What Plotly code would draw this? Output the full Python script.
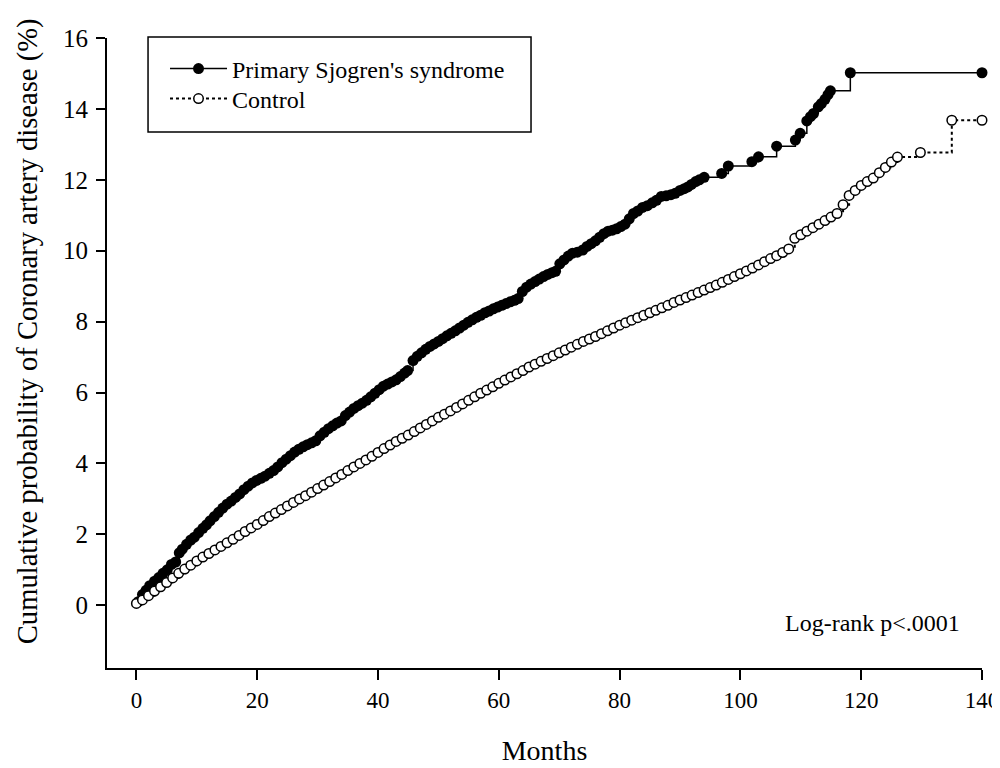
import plotly.graph_objects as go

# Kaplan-Meier style cumulative incidence
pss_months = [0.3, 1.0, 1.6, 2.2, 3.0, 3.7, 4.4, 5.1, 5.8, 6.5, 7.1, 7.6, 8.3, 9.0, 9.6,
              10.3, 11.0, 11.6, 12.2, 12.9, 13.6, 14.3, 15.0, 15.7, 16.4, 17.1, 17.8, 18.5,
              19.2, 19.9, 20.6, 21.3, 22.0, 22.7, 23.4, 24.1, 24.8, 25.5, 26.2, 26.9, 27.6,
              28.3, 29.0, 29.7, 30.4, 31.1, 31.8, 32.5, 33.2, 33.9, 34.6, 35.3, 36.0, 36.7,
              37.4, 38.1, 38.8, 39.5, 40.2, 40.9, 41.6, 42.3, 43.0, 43.7, 44.4, 44.9, 45.8,
              46.5, 47.2, 47.9, 48.6, 49.3, 50.0, 50.7, 51.4, 52.1, 52.8, 53.5, 54.2, 54.9,
              55.6, 56.3, 57.0, 57.7, 58.4, 59.1, 59.8, 60.5, 61.2, 61.9, 62.6, 63.2, 63.9,
              64.6, 65.3, 66.0, 66.7, 67.4, 68.1, 68.8, 69.4, 70.1, 70.8, 71.5, 72.2, 73.0,
              73.9, 74.6, 75.3, 76.0, 76.7, 77.4, 78.1, 78.8, 79.5, 80.2, 80.9, 81.6, 82.3,
              83.0, 83.8, 84.6, 85.4, 86.1, 86.9, 87.7, 88.5, 89.2, 90.0, 90.7, 91.3, 91.9,
              92.6, 93.2, 94.0, 96.9, 98.0, 101.9, 103.0, 106.0, 109.1, 109.9, 111.0, 111.6,
              112.1, 112.9, 113.4, 114.0, 114.5, 114.9, 118.2, 140.0]
pss_cum = [0.1, 0.3, 0.42, 0.55, 0.68, 0.78, 0.9, 1.0, 1.15, 1.22, 1.48, 1.58, 1.72, 1.84, 1.92,
           2.05, 2.17, 2.27, 2.38, 2.5, 2.62, 2.74, 2.85, 2.94, 3.04, 3.14, 3.26, 3.36,
           3.45, 3.52, 3.58, 3.64, 3.72, 3.8, 3.9, 4.02, 4.12, 4.22, 4.32, 4.4, 4.47,
           4.53, 4.58, 4.64, 4.78, 4.88, 4.98, 5.06, 5.14, 5.2, 5.35, 5.45, 5.55, 5.63,
           5.7, 5.78, 5.88, 5.98, 6.08, 6.18, 6.24, 6.3, 6.36, 6.45, 6.55, 6.62, 6.9,
           7.02, 7.12, 7.22, 7.3, 7.37, 7.44, 7.52, 7.6, 7.67, 7.74, 7.82, 7.9, 7.98,
           8.05, 8.12, 8.18, 8.25, 8.3, 8.36, 8.41, 8.46, 8.51, 8.56, 8.6, 8.65, 8.85,
           8.97, 9.06, 9.13, 9.2, 9.27, 9.33, 9.38, 9.42, 9.63, 9.74, 9.85, 9.93, 9.96,
           10.02, 10.12, 10.2, 10.28, 10.38, 10.48, 10.55, 10.58, 10.62, 10.68, 10.75, 10.9, 11.05,
           11.12, 11.22, 11.27, 11.35, 11.42, 11.53, 11.55, 11.58, 11.62, 11.7, 11.75, 11.8, 11.87,
           11.95, 12.0, 12.07, 12.18, 12.39, 12.51, 12.65, 12.95, 13.12, 13.31, 13.66, 13.78,
           13.87, 14.06, 14.15, 14.27, 14.4, 14.51, 15.02, 15.02]

ctrl_months = [0, 1, 2, 3, 4, 5, 6, 7, 8, 9, 10, 11, 12, 13, 14, 15, 16, 17, 18, 19,
               20, 21, 22, 23, 24, 25, 26, 27, 28, 29, 30, 31, 32, 33, 34, 35, 36, 37, 38, 39,
               40, 41, 42, 43, 44, 45, 46, 47, 48, 49, 50, 51, 52, 53, 54, 55, 56, 57, 58, 59,
               60, 61, 62, 63, 64, 65, 66, 67, 68, 69, 70, 71, 72, 73, 74, 75, 76, 77, 78, 79,
               80, 81, 82, 83, 84, 85, 86, 87, 88, 89, 90, 91, 92, 93, 94, 95, 96, 97, 98, 99,
               100, 101, 102, 103, 104, 105, 106, 107, 108, 109, 110, 111, 112, 113, 114, 115,
               116, 117, 118, 119, 120, 121, 122, 123, 124, 125, 126, 129.8, 135, 140]
ctrl_cum = [0.05, 0.15, 0.27, 0.4, 0.52, 0.64, 0.77, 0.9, 1.02, 1.13, 1.25, 1.36, 1.46, 1.56,
            1.66, 1.76, 1.86, 1.97, 2.08, 2.18,
            2.28, 2.39, 2.5, 2.6, 2.7, 2.8, 2.9, 3.0, 3.09, 3.19, 3.29, 3.39, 3.49, 3.59,
            3.69, 3.8, 3.9, 4.0, 4.1, 4.2,
            4.31, 4.42, 4.52, 4.62, 4.71, 4.8, 4.9, 5.0, 5.1, 5.2, 5.3, 5.39, 5.48, 5.58,
            5.68, 5.78, 5.88, 5.98, 6.07, 6.16,
            6.26, 6.35, 6.44, 6.53, 6.62, 6.72, 6.8, 6.88, 6.96, 7.04, 7.12, 7.2, 7.28, 7.36,
            7.44, 7.51, 7.58, 7.66, 7.74, 7.82,
            7.9, 7.97, 8.04, 8.11, 8.18, 8.25, 8.32, 8.39, 8.46, 8.54, 8.61, 8.68, 8.75, 8.82,
            8.89, 8.96, 9.03, 9.11, 9.19, 9.27,
            9.35, 9.43, 9.51, 9.6, 9.69, 9.78, 9.86, 9.95, 10.05, 10.35, 10.45, 10.55, 10.65,
            10.75, 10.85, 10.95,
            11.05, 11.3, 11.56, 11.7, 11.84, 11.95, 12.05, 12.2, 12.35, 12.5, 12.64, 12.77,
            13.68, 13.68]

x_ticks = [0, 20, 40, 60, 80, 100, 120, 140]
y_ticks = [0, 2, 4, 6, 8, 10, 12, 14, 16]

serif = "Liberation Serif"

fig = go.Figure()
fig.add_trace(go.Scatter(x=pss_months, y=pss_cum, name="Primary Sjogren's syndrome",
                         mode="lines+markers", line=dict(color="black", width=1.5, shape="hv"),
                         marker=dict(symbol="circle", size=11, color="black"),
                         cliponaxis=False, legend="legend"))
fig.add_trace(go.Scatter(x=ctrl_months, y=ctrl_cum, name="Control",
                         mode="lines+markers", line=dict(color="black", width=2, dash="dot", shape="hv"),
                         marker=dict(symbol="circle", size=9.5, color="white",
                                     line=dict(color="black", width=1.5)),
                         cliponaxis=False, legend="legend2"))

# legend frame
fig.add_shape(type="rect", xref="paper", yref="paper",
              x0=0.0469, x1=0.4846, y0=0.8508, y1=1.0016,
              line=dict(color="black", width=1.5), fillcolor="rgba(0,0,0,0)")

fig.add_annotation(x=136.7, y=-0.5, xref="x", yref="y", text="Log-rank p<.0001",
                   showarrow=False, xanchor="right", yanchor="middle",
                   font=dict(family=serif, size=24, color="black"))

fig.add_annotation(x=-0.09, y=0.535, xref="paper", yref="paper", textangle=-90,
                   text="Cumulative probability of Coronary artery disease (%)",
                   showarrow=False, xanchor="center", yanchor="middle",
                   font=dict(family=serif, size=28.6, color="black"))

legend_style = dict(xanchor="left", yanchor="top", font=dict(family=serif, size=24),
                    bgcolor="rgba(0,0,0,0)", borderwidth=0, itemwidth=57)

fig.update_layout(
    width=992, height=760,
    margin=dict(l=99, r=18, t=30, b=100),
    paper_bgcolor="white", plot_bgcolor="white",
    font=dict(family=serif, color="black"),
    showlegend=True,
    legend=dict(x=0.0663, y=0.9865, **legend_style),
    legend2=dict(x=0.0663, y=0.939, **legend_style),
    xaxis=dict(range=[-4.87, 140], tickvals=x_ticks, ticks="outside", ticklen=10,
               tickwidth=2, tickcolor="black", showline=True, linewidth=2, linecolor="black",
               showgrid=False, zeroline=False, tickfont=dict(family=serif, size=23),
               automargin=False, ticklabeloverflow="allow",
               title=dict(text="Months", font=dict(family=serif, size=28), standoff=29)),
    yaxis=dict(range=[-1.77, 16], tickvals=y_ticks, ticks="outside", ticklen=9,
               tickwidth=2, tickcolor="black", showline=True, linewidth=2, linecolor="black",
               showgrid=False, zeroline=False, tickfont=dict(family=serif, size=25),
               automargin=False, ticklabelstandoff=3),
)

fig.write_html("out.html")
